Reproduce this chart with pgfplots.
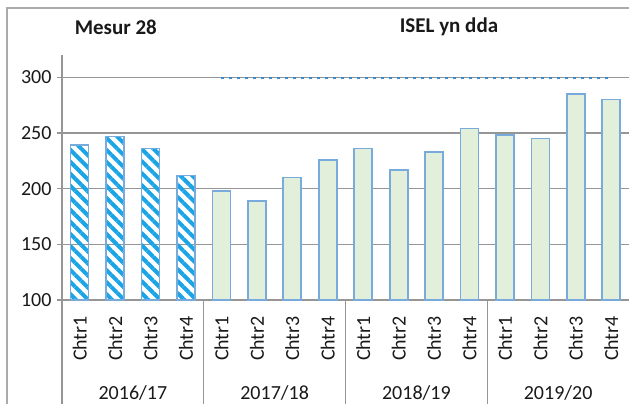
\documentclass[border=0pt]{standalone}
\usepackage{pgfplots}
\pgfplotsset{compat=1.18}
\usepackage{fontspec}
\setmainfont{Carlito}
\usetikzlibrary{patterns.meta}

\definecolor{hatchblue}{RGB}{28,165,230}
\definecolor{barfill}{RGB}{226,239,218}
\definecolor{barline}{RGB}{120,170,220}
\definecolor{gridgray}{RGB}{150,150,150}
\definecolor{dotblue}{RGB}{55,140,215}
\definecolor{txt}{RGB}{25,25,25}

\begin{document}
\begin{tikzpicture}
\useasboundingbox (-62pt,-104pt) rectangle (567pt,300pt);
\begin{axis}[
    scale only axis,
    width=567pt, height=245pt,
    xmin=-0.5, xmax=15.5,
    ymin=100, ymax=320,
    clip mode=individual,
    axis x line*=bottom, axis y line*=left,
    axis line style={gridgray, line width=1.2pt},
    ytick={100,150,200,250,300},
    ymajorgrids,
    grid style={gridgray, line width=1.2pt},
    ytick style={gridgray, line width=1.2pt},
    tick align=outside,
    major tick length=5pt,
    /pgf/number format/assume math mode=true,
    yticklabel style={font=\fontsize{20}{22}\selectfont, text=txt, xshift=-2pt},
    xtick={0,...,15},
    xticklabels={Chtr1,Chtr2,Chtr3,Chtr4,Chtr1,Chtr2,Chtr3,Chtr4,Chtr1,Chtr2,Chtr3,Chtr4,Chtr1,Chtr2,Chtr3,Chtr4},
    x tick style={draw=none},
    xticklabel style={rotate=90, anchor=east, inner sep=1pt, font=\fontsize{20}{22}\selectfont, text=txt, xshift=-10pt},
    extra x ticks={0.5,1.5,2.5,4.5,5.5,6.5,8.5,9.5,10.5,12.5,13.5,14.5},
    extra x tick labels={},
    extra x tick style={grid=none, major tick length=62pt, tick style={draw=gridgray, line width=1.2pt}},
]
% Mesur 28 (hatched)
\addplot[ybar, bar width=18pt, bar shift=0pt, draw=barline, line width=1.5pt,
    pattern={Lines[angle=-45, distance=8.5pt, line width=4pt]}, pattern color=hatchblue]
    coordinates {(0,239) (1,247) (2,236) (3,212)};
% ISEL yn dda
\addplot[ybar, bar width=18pt, bar shift=0pt, draw=barline, line width=1.8pt, fill=barfill]
    coordinates {(4,198) (5,189) (6,210) (7,226) (8,236) (9,217) (10,233) (11,254)
                 (12,248) (13,245) (14,285) (15,280)};
% target line
\addplot[dotblue, line width=2.2pt, dash pattern=on 3pt off 5pt]
    coordinates {(4,299.6) (15,299.6)};

% group separators and labels
\pgfplotsinvokeforeach{-0.5,3.5,7.5,11.5}{
  \draw[gridgray, line width=1.2pt] (axis cs:#1,100) -- ++(0pt,-104pt);
}
\node[font=\fontsize{20}{22}\selectfont, text=txt] at ([yshift=-93pt]axis cs:1.5,100) {2016/17};
\node[font=\fontsize{20}{22}\selectfont, text=txt] at ([yshift=-93pt]axis cs:5.5,100) {2017/18};
\node[font=\fontsize{20}{22}\selectfont, text=txt] at ([yshift=-93pt]axis cs:9.5,100) {2018/19};
\node[font=\fontsize{20}{22}\selectfont, text=txt] at ([yshift=-93pt]axis cs:13.5,100) {2019/20};

% section titles
\node[font=\bfseries\fontsize{21}{23}\selectfont, text=txt] at ([yshift=273pt]axis cs:1.02,100) {Mesur 28};
\node[font=\bfseries\fontsize{21}{23}\selectfont, text=txt] at ([yshift=273pt]axis cs:10.42,100) {ISEL yn dda};
\end{axis}
% chart frame
\draw[gridgray!80, line width=1.5pt] (-55pt,-104pt) -- (-55pt,292pt) -- (567pt,292pt);
\end{tikzpicture}
\end{document}
